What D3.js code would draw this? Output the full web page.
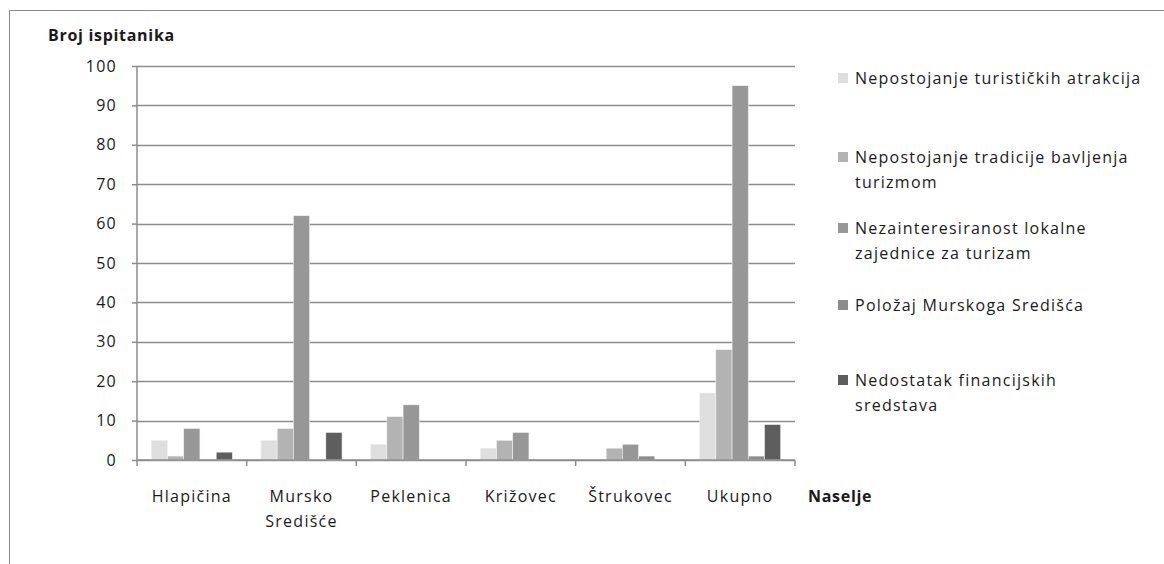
<!DOCTYPE html>
<html>
<head>
<meta charset="utf-8">
<script src="https://cdn.jsdelivr.net/npm/d3@7"></script>
<style>
  body { margin: 0; background: #fff; }
  text { font-family: "Open Sans", sans-serif; fill: #1a1a1a; font-size: 16px; letter-spacing: 1.25px; }
  text.bold { font-weight: bold; letter-spacing: 0.7px; }
</style>
</head>
<body>
<div id="vis"></div>
<script>
// naselja (x categories), second line for long names
let naselja = ["Hlapičina", "Mursko Središće", "Peklenica", "Križovec", "Štrukovec", "Ukupno"];
let naseljaLines = [["Hlapičina"], ["Mursko", "Središće"], ["Peklenica"], ["Križovec"], ["Štrukovec"], ["Ukupno"]];

// series names (legend)
let serije = [
  "Nepostojanje turističkih atrakcija",
  "Nepostojanje tradicije bavljenja turizmom",
  "Nezainteresiranost lokalne zajednice za turizam",
  "Položaj Murskoga Središća",
  "Nedostatak financijskih sredstava"
];
let legendLines = [
  ["Nepostojanje turističkih atrakcija"],
  ["Nepostojanje tradicije bavljenja", "turizmom"],
  ["Nezainteresiranost lokalne", "zajednice za turizam"],
  ["Položaj Murskoga Središća"],
  ["Nedostatak financijskih", "sredstava"]
];

// values per series, same order as naselja
let atrakcije   = [5, 5, 4, 3, 0, 17];
let tradicija   = [1, 8, 11, 5, 3, 28];
let zajednica   = [8, 62, 14, 7, 4, 95];
let polozaj     = [0, 0, 0, 0, 1, 1];
let financije   = [2, 7, 0, 0, 0, 9];

let yTicks = [0, 10, 20, 30, 40, 50, 60, 70, 80, 90, 100];
let boje = ["#dedede", "#b3b3b3", "#979797", "#8c8c8c", "#5e5e5e"];

let values = [atrakcije, tradicija, zajednica, polozaj, financije];

let w = 1164, h = 564;
let svg = d3.select("#vis").append("svg")
  .attr("width", w)
  .attr("height", h);

// frame
svg.append("path")
  .attr("d", "M9.5," + h + " L9.5,10.5 L" + w + ",10.5")
  .attr("fill", "none")
  .attr("stroke", "#8c8c8c")
  .attr("stroke-width", 1);

let pLeft = 137, pRight = 795, pTop = 66, pBottom = 460;

let x = d3.scaleBand()
  .domain(naselja)
  .range([pLeft, pRight]);

let inner = d3.scaleBand()
  .domain(d3.range(serije.length))
  .range([0, x.bandwidth()])
  .paddingOuter(0.88)
  .paddingInner(0);

let y = d3.scaleLinear()
  .domain([0, 100])
  .range([pBottom, pTop]);

// gridlines
svg.append("g")
  .selectAll("line")
  .data(yTicks)
  .enter()
  .append("line")
  .attr("x1", pLeft)
  .attr("x2", pRight)
  .attr("y1", d => Math.round(y(d)) + 0.5)
  .attr("y2", d => Math.round(y(d)) + 0.5)
  .attr("stroke", "#8c8c8c")
  .attr("stroke-width", 1.5);

// bars
naselja.forEach(function(n, i) {
  let g = svg.append("g").attr("transform", "translate(" + x(n) + ",0)");
  g.selectAll("rect")
    .data(values.map(v => v[i]))
    .enter()
    .append("rect")
    .attr("x", (d, j) => inner(j))
    .attr("y", d => y(d))
    .attr("width", inner.bandwidth())
    .attr("height", d => pBottom - y(d))
    .attr("fill", (d, j) => boje[j])
    .attr("stroke", "#f2f2f2")
    .attr("stroke-width", 0.6);
});

// y axis
let yAxis = d3.axisLeft(y)
  .tickValues(yTicks)
  .tickSize(5)
  .tickPadding(15);

svg.append("g")
  .attr("transform", "translate(" + pLeft + ",0)")
  .call(yAxis)
  .call(g => g.selectAll("line, path").attr("stroke", "#8c8c8c").attr("stroke-width", 1.5))
  .call(g => g.select(".domain").attr("d", "M0," + pTop + "V" + pBottom))
  .call(g => g.selectAll("text")
    .style("font-family", "Open Sans, sans-serif")
    .style("font-size", "16px")
    .attr("fill", "#1a1a1a"));

// x axis
let xAxis = d3.axisBottom(x)
  .tickSize(0)
  .tickFormat("");

let xg = svg.append("g")
  .attr("transform", "translate(0," + pBottom + ")")
  .call(xAxis);
xg.select(".domain").attr("stroke", "#8c8c8c").attr("stroke-width", 1.5)
  .attr("d", "M" + pLeft + ",0H" + pRight);

xg.selectAll(".sep")
  .data(naselja.concat(["end"]))
  .enter()
  .append("line")
  .attr("x1", (d, i) => pLeft + i * x.bandwidth())
  .attr("x2", (d, i) => pLeft + i * x.bandwidth())
  .attr("y1", 0)
  .attr("y2", 6)
  .attr("stroke", "#8c8c8c")
  .attr("stroke-width", 1.5);

let xl = svg.append("g").selectAll("text")
  .data(naselja)
  .enter()
  .append("text")
  .attr("x", d => x(d) + x.bandwidth() / 2)
  .attr("y", 502)
  .attr("text-anchor", "middle");
xl.selectAll("tspan")
  .data((d, i) => naseljaLines[i])
  .enter()
  .append("tspan")
  .attr("x", function() { return d3.select(this.parentNode).attr("x"); })
  .attr("dy", (d, k) => k == 0 ? 0 : 25)
  .text(d => d);

// axis titles
svg.append("text")
  .attr("class", "bold")
  .attr("x", 48)
  .attr("y", 41)
  .text("Broj ispitanika");

svg.append("text")
  .attr("class", "bold")
  .attr("x", 808)
  .attr("y", 502)
  .text("Naselje");

// legend
let legendY = [78, 157, 228, 305, 380];
let lg = svg.append("g").selectAll("g")
  .data(serije)
  .enter()
  .append("g")
  .attr("transform", (d, i) => "translate(838," + legendY[i] + ")");

lg.append("rect")
  .attr("x", 0)
  .attr("y", -5)
  .attr("width", 10)
  .attr("height", 10)
  .attr("fill", (d, i) => boje[i]);

lg.append("text")
  .attr("x", 17)
  .attr("y", 6)
  .selectAll("tspan")
  .data((d, i) => legendLines[i])
  .enter()
  .append("tspan")
  .attr("x", 17)
  .attr("dy", (d, k) => k == 0 ? 0 : 25)
  .text(d => d);
</script>
</body>
</html>
